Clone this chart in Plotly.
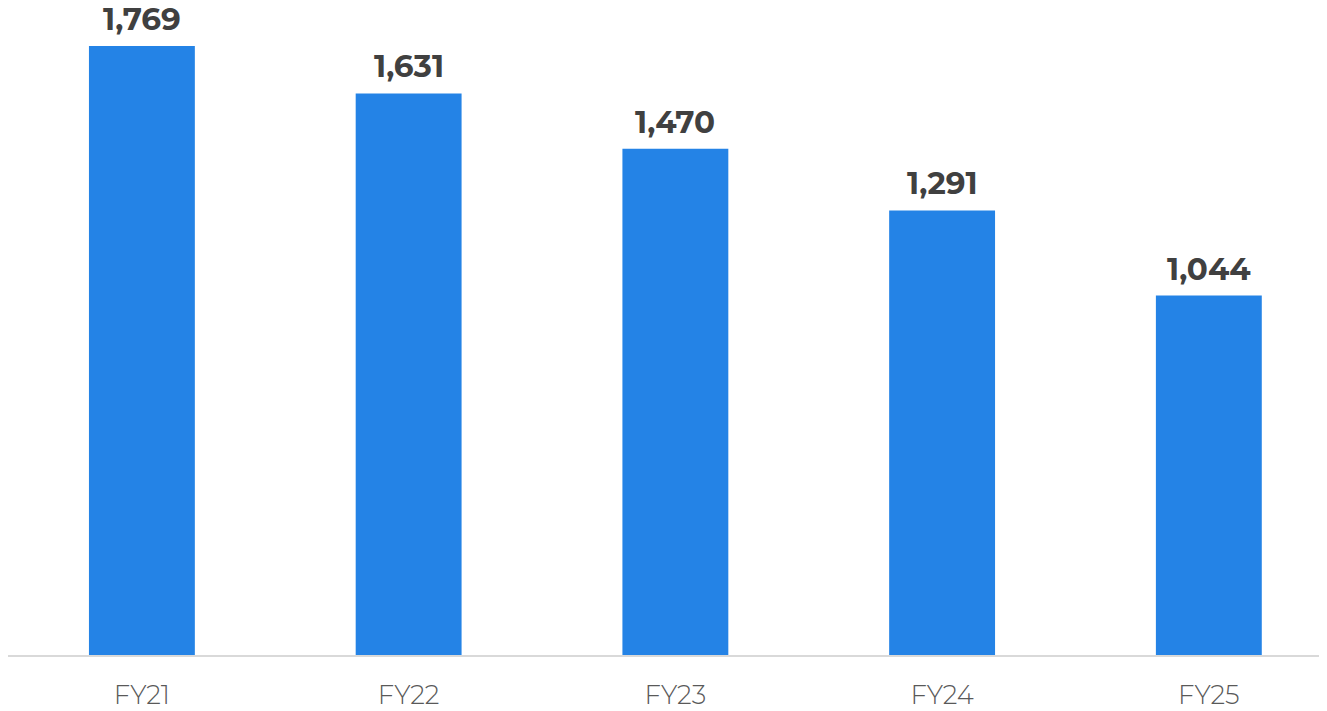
import plotly.graph_objects as go

categories = ["FY21", "FY22", "FY23", "FY24", "FY25"]
values = [1769, 1631, 1470, 1291, 1044]
labels = ["1,769", "1,631", "1,470", "1,291", "1,044"]

fig = go.Figure(go.Bar(
    x=categories, y=values,
    marker=dict(color="#2483e6", line=dict(width=0)),
    width=0.397, cliponaxis=False,
))
for c, v, t in zip(categories, values, labels):
    fig.add_annotation(x=c, y=v, text=t, showarrow=False, yanchor="bottom", yshift=6,
                       font=dict(family="Montserrat, Open Sans, sans-serif", size=31, color="#404040", weight="bold"))
fig.update_layout(
    width=1319, height=703,
    margin=dict(l=0, r=0, t=0, b=52),
    plot_bgcolor="white", paper_bgcolor="white",
    showlegend=False,
    xaxis=dict(type="category", range=[-0.502, 4.443], showline=True, linecolor="#d9d9d9", linewidth=2,
               tickfont=dict(family="Montserrat, Open Sans, sans-serif", size=26, color="#595959", weight=300),
               ticks="", showgrid=False, ticklabelstandoff=16),
    yaxis=dict(range=[0, 1879], visible=False, showgrid=False),
)
fig.write_html("out.html")
